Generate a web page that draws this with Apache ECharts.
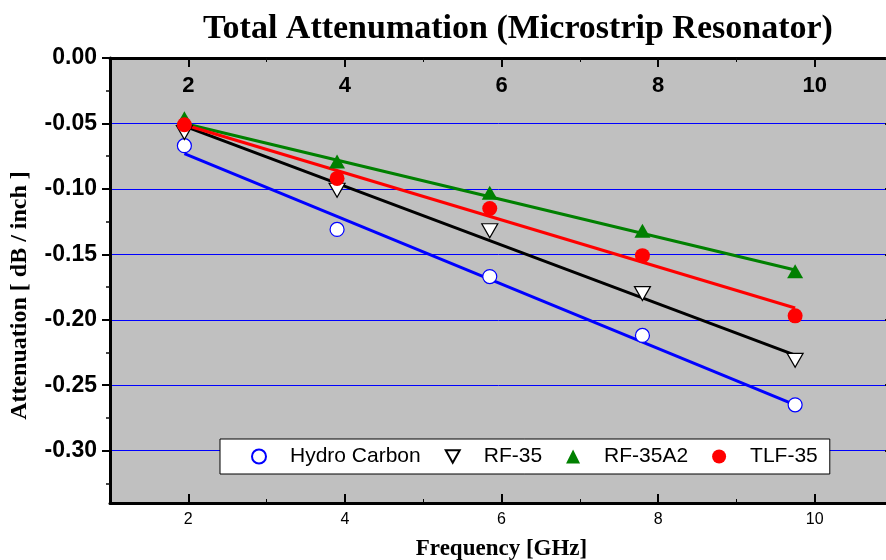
<!DOCTYPE html>
<html>
<head>
<meta charset="utf-8">
<script src="https://cdn.jsdelivr.net/npm/echarts@6/dist/echarts.min.js"></script>
<style>
  html, body { margin: 0; padding: 0; background: #fff; }
  #main { width: 886px; height: 560px; }
</style>
</head>
<body>
<div id="main"></div>
<script>
// frequencies of the measured points (GHz)
var freq = [1.95, 3.9, 5.85, 7.8, 9.75];

// measured attenuation (dB / inch)
var hydroCarbon = [-0.067, -0.131, -0.167, -0.212, -0.265];
var rf35 = [-0.057, -0.101, -0.132, -0.180, -0.231];
var rf35a2 = [-0.046, -0.079, -0.103, -0.132, -0.163];
var tlf35 = [-0.051, -0.092, -0.115, -0.151, -0.197];

// fitted lines, read at both ends
var fitX = [1.95, 9.75];
var hydroFit = [-0.073, -0.265];
var rf35Fit = [-0.052, -0.227];
var rf35a2Fit = [-0.050, -0.162];
var tlf35Fit = [-0.051, -0.191];

// ticks
var xMajor = [2, 4, 6, 8, 10];
var xMinor = [3, 5, 7, 9];
var yMajor = [-0.30, -0.25, -0.20, -0.15, -0.10, -0.05, 0];
var yMinor = [-0.325, -0.275, -0.225, -0.175, -0.125, -0.075, -0.025];

function pairs(xs, ys) {
  return xs.map(function (x, i) { return [x, ys[i]]; });
}

var chartDom = document.getElementById('main');
var myChart = echarts.init(chartDom, null, { renderer: 'canvas' });

var serif = '"Liberation Serif", "Times New Roman", serif';
var sans = '"Liberation Sans", Arial, sans-serif';
var downTri = 'path://M0,0L10,0L5,9Z';

var option = {
  animation: false,
  backgroundColor: '#ffffff',
  title: {
    text: 'Total Attenumation (Microstrip Resonator)',
    left: 198,
    top: 7,
    textStyle: { fontFamily: serif, fontWeight: 'bold', fontSize: 34, color: '#000' }
  },
  legend: {
    left: 220,
    top: 439,
    orient: 'horizontal',
    backgroundColor: '#ffffff',
    borderColor: '#000',
    borderWidth: 1,
    borderRadius: 0,
    padding: [7, 12, 7, 31],
    itemWidth: 14,
    itemHeight: 14,
    itemGap: 24,
    textStyle: { fontFamily: sans, fontSize: 21, color: '#000', padding: [0, 0, 0, 19] },
    data: ['Hydro Carbon', 'RF-35', 'RF-35A2', 'TLF-35']
  },
  grid: {
    left: 110,
    top: 58,
    width: 783,
    height: 445,
    show: true,
    backgroundColor: '#c0c0c0',
    borderWidth: 0,
    containLabel: false,
    outerBoundsMode: 'none'
  },
  xAxis: [
    {
      type: 'value',
      position: 'bottom',
      min: 1,
      max: 11,
      splitNumber: 5,
      name: 'Frequency [GHz]',
      nameLocation: 'middle',
      nameGap: 35,
      nameTextStyle: { fontFamily: serif, fontWeight: 'bold', fontSize: 23, color: '#000' },
      axisLine: { onZero: false, lineStyle: { color: '#000', width: 3 } },
      axisTick: { inside: true, length: 9, lineStyle: { color: '#000', width: 2 }, customValues: xMajor },
      axisLabel: { fontFamily: sans, fontSize: 16, color: '#000', margin: 9, customValues: xMajor },
      splitLine: { show: false }
    },
    {
      type: 'value',
      position: 'top',
      min: 1,
      max: 11,
      splitNumber: 5,
      axisLine: { onZero: false, lineStyle: { color: '#000', width: 3 } },
      axisTick: { inside: true, length: 9, lineStyle: { color: '#030303', width: 2 }, customValues: xMajor },
      axisLabel: { inside: true, fontFamily: sans, fontWeight: 'bold', fontSize: 22, color: '#000', margin: 17,
        customValues: xMajor },
      splitLine: { show: false }
    },
    {
      type: 'value',
      position: 'bottom',
      min: 1,
      max: 11,
      axisLine: { show: false, onZero: false },
      axisTick: { inside: true, length: 4, lineStyle: { color: '#060606', width: 1 }, customValues: xMinor },
      axisLabel: { show: false },
      splitLine: { show: false }
    },
    {
      type: 'value',
      position: 'top',
      min: 1,
      max: 11,
      axisLine: { show: false, onZero: false },
      axisTick: { inside: true, length: 4, lineStyle: { color: '#090909', width: 1 }, customValues: xMinor },
      axisLabel: { show: false },
      splitLine: { show: false }
    }
  ],
  yAxis: [
    {
      type: 'value',
      position: 'left',
      min: -0.34,
      max: 0,
      splitNumber: 7,
      name: 'Attenuation [ dB / inch ]',
      nameLocation: 'middle',
      nameGap: 78,
      nameTextStyle: { fontFamily: serif, fontWeight: 'bold', fontSize: 24, color: '#000', padding: [0, 30, 0, 0] },
      axisLine: { onZero: false, lineStyle: { color: '#000', width: 3 } },
      axisTick: { inside: false, length: 8, lineStyle: { color: '#010101', width: 2 }, customValues: yMajor },
      axisLabel: {
        fontFamily: sans, fontWeight: 'bold', fontSize: 23, color: '#000', margin: 13,
        customValues: yMajor,
        formatter: function (v) { return v.toFixed(2); }
      },
      splitLine: { show: false }
    },
    {
      type: 'value',
      position: 'left',
      min: -0.34,
      max: 0,
      axisLine: { show: false, onZero: false },
      axisTick: { inside: false, length: 4, lineStyle: { color: '#0c0c0c', width: 1.5 }, customValues: yMinor },
      axisLabel: { show: false },
      splitLine: { show: false }
    },
    {
      type: 'value',
      position: 'right',
      min: -0.34,
      max: 0,
      splitNumber: 7,
      axisLine: { show: true, onZero: false, lineStyle: { color: '#000', width: 3 } },
      axisTick: { inside: true, length: 8, lineStyle: { color: '#101010', width: 2 }, customValues: yMajor },
      axisLabel: { show: false },
      splitLine: { show: false }
    },
    {
      // gridlines only
      type: 'value',
      position: 'left',
      min: -0.34,
      max: 0,
      splitNumber: 7,
      axisLine: { show: false, onZero: false },
      axisTick: { show: false },
      axisLabel: { show: false },
      splitLine: { show: true, lineStyle: { color: '#0000ff', width: 1 } }
    }
  ],
  series: [
    {
      name: 'Hydro Carbon fit', type: 'line', data: pairs(fitX, hydroFit),
      showSymbol: false, symbol: 'none', lineStyle: { color: '#0000ff', width: 3 }, z: 2
    },
    {
      name: 'RF-35 fit', type: 'line', data: pairs(fitX, rf35Fit),
      showSymbol: false, symbol: 'none', lineStyle: { color: '#000000', width: 3 }, z: 2
    },
    {
      name: 'RF-35A2 fit', type: 'line', data: pairs(fitX, rf35a2Fit),
      showSymbol: false, symbol: 'none', lineStyle: { color: '#008000', width: 3 }, z: 2
    },
    {
      name: 'TLF-35 fit', type: 'line', data: pairs(fitX, tlf35Fit),
      showSymbol: false, symbol: 'none', lineStyle: { color: '#ff0000', width: 3 }, z: 2
    },
    {
      name: 'Hydro Carbon', type: 'scatter', data: pairs(freq, hydroCarbon),
      symbol: 'circle', symbolSize: 14,
      itemStyle: { color: '#ffffff', borderColor: '#0000ff', borderWidth: 1.2, opacity: 1 }, z: 3
    },
    {
      name: 'RF-35', type: 'scatter', data: pairs(freq, rf35),
      symbol: downTri, symbolSize: [16, 14],
      itemStyle: { color: '#ffffff', borderColor: '#000000', borderWidth: 1.2, opacity: 1 }, z: 3
    },
    {
      name: 'RF-35A2', type: 'scatter', data: pairs(freq, rf35a2),
      symbol: 'triangle', symbolSize: [16, 14],
      itemStyle: { color: '#008000', opacity: 1 }, z: 3
    },
    {
      name: 'TLF-35', type: 'scatter', data: pairs(freq, tlf35),
      symbol: 'circle', symbolSize: 15,
      itemStyle: { color: '#ff0000', opacity: 1 }, z: 3
    }
  ]
};

myChart.setOption(option);
</script>
</body>
</html>
